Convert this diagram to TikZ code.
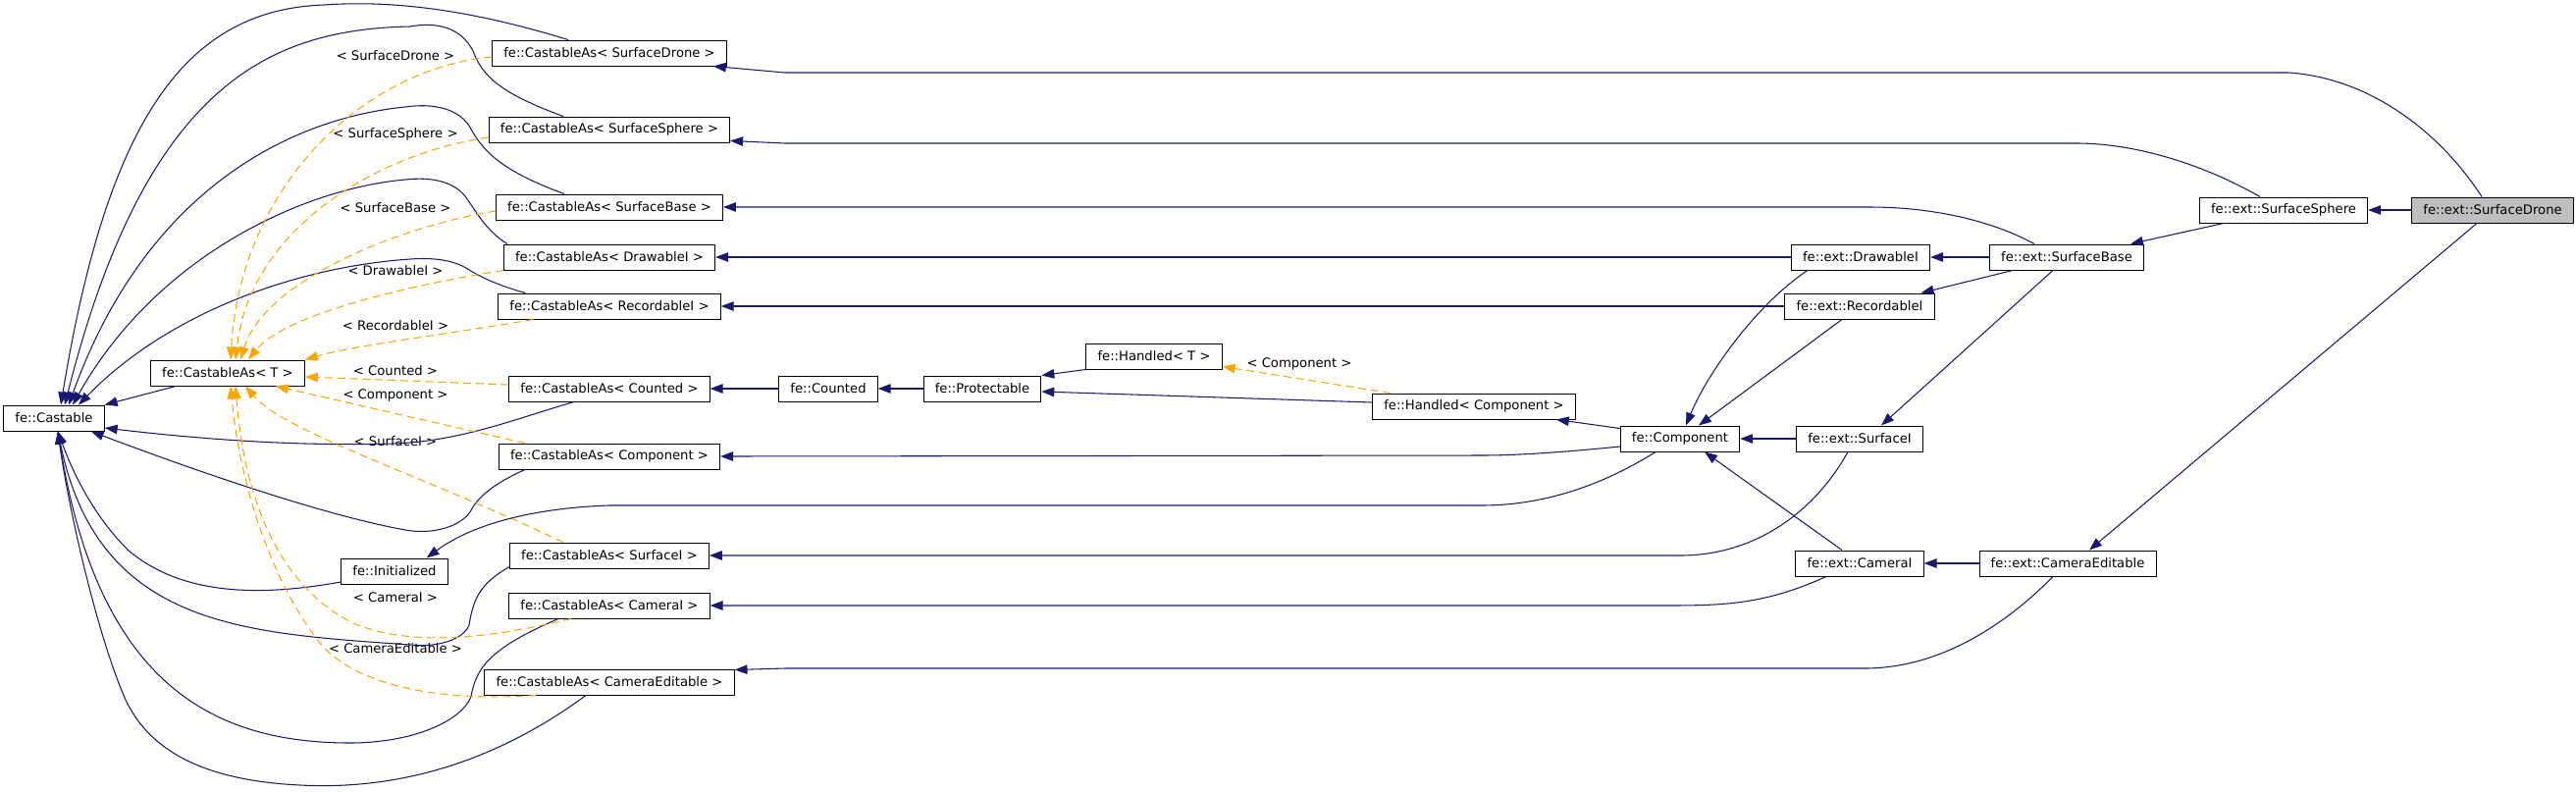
\documentclass[tikz,border=0pt]{standalone}
\usepackage{fontspec}
\setmainfont{DejaVu Sans}
\usetikzlibrary{arrows.meta}
\definecolor{edgeblue}{HTML}{191970}
\definecolor{edgeorange}{HTML}{FFA500}

\begin{document}
\begin{tikzpicture}[x=0.02cm,y=-0.02cm,
    cls/.style={draw=black,line width=0.55pt,fill=white,minimum height=0.52cm,inner xsep=6.6pt,inner ysep=0pt,font=\fontsize{7.5}{9}\selectfont},
    lbl/.style={inner sep=1pt,font=\fontsize{7.5}{9}\selectfont},
    inh/.style={edgeblue,line width=0.6pt,-{Triangle[length=0.26cm,width=0.19cm]}},
    tmpl/.style={edgeorange,line width=0.6pt,dash pattern=on 4.5pt off 2.8pt,-{Triangle[length=0.26cm,width=0.19cm]}}]
    \useasboundingbox (0,0) rectangle (2625,806);

    % classes
    \node[cls] (castable) at (55,426) {fe::Castable};
    \node[cls] (castT) at (232,380) {fe::CastableAs< T >};
    \node[cls] (casDrone) at (621,54) {fe::CastableAs< SurfaceDrone >};
    \node[cls] (casSphere) at (621,132) {fe::CastableAs< SurfaceSphere >};
    \node[cls] (casBase) at (621,211) {fe::CastableAs< SurfaceBase >};
    \node[cls] (casDraw) at (621,262) {fe::CastableAs< DrawableI >};
    \node[cls] (casRec) at (621,312) {fe::CastableAs< RecordableI >};
    \node[cls] (casCounted) at (621,396) {fe::CastableAs< Counted >};
    \node[cls] (casComp) at (621,465) {fe::CastableAs< Component >};
    \node[cls] (initd) at (402,582) {fe::Initialized};
    \node[cls] (casSurfI) at (621,566) {fe::CastableAs< SurfaceI >};
    \node[cls] (casCamI) at (621,617) {fe::CastableAs< CameraI >};
    \node[cls] (casCamEd) at (621,695) {fe::CastableAs< CameraEditable >};
    \node[cls] (counted) at (844,396) {fe::Counted};
    \node[cls] (protectable) at (1001,396) {fe::Protectable};
    \node[cls] (handledT) at (1176,363) {fe::Handled< T >};
    \node[cls] (handledComp) at (1502,414) {fe::Handled< Component >};
    \node[cls] (component) at (1712,447) {fe::Component};
    \node[cls] (drawableI) at (1896,262) {fe::ext::DrawableI};
    \node[cls] (recordableI) at (1895,312) {fe::ext::RecordableI};
    \node[cls] (surfaceI) at (1895,447) {fe::ext::SurfaceI};
    \node[cls] (cameraI) at (1895,574) {fe::ext::CameraI};
    \node[cls] (surfBase) at (2106,262) {fe::ext::SurfaceBase};
    \node[cls] (camEd) at (2107,574) {fe::ext::CameraEditable};
    \node[cls] (surfSphere) at (2327,214) {fe::ext::SurfaceSphere};
    \node[cls,fill=black!25] (surfDrone) at (2540,214) {fe::ext::SurfaceDrone};

    % template labels
    \node[lbl] (lDrone) at (403,57) {< SurfaceDrone >};
    \node[lbl] (lSphere) at (403,137) {< SurfaceSphere >};
    \node[lbl] (lBase) at (403,212) {< SurfaceBase >};
    \node[lbl] (lDraw) at (403,276) {< DrawableI >};
    \node[lbl] (lRec) at (403,332) {< RecordableI >};
    \node[lbl] (lCounted) at (403,378) {< Counted >};
    \node[lbl] (lComp) at (403,403) {< Component >};
    \node[lbl] (lSurfI) at (403,450) {< SurfaceI >};
    \node[lbl] (lCamI) at (403,609) {< CameraI >};
    \node[lbl] (lCamEd) at (403,661) {< CameraEditable >};
    \node[lbl] (lHandled) at (1324,371) {< Component >};

    % everything derives from fe::Castable
    \draw[inh] ([xshift=0.52cm]castT.south west) -- (castable.north east);
    \draw[inh] ([xshift=-0.84cm]casDrone.north) .. controls (480,10) and (400,0) .. (330,5) .. controls (190,10) and (110,120) .. ([xshift=0.14cm]castable.north);
    \draw[inh] ([xshift=-0.94cm]casSphere.north) .. controls (510,95) and (492,78) .. (482,52) .. controls (470,28) and (445,22) .. (418,27) .. controls (280,30) and (150,80) .. ([xshift=0.22cm]castable.north);
    \draw[inh] ([xshift=-0.92cm]casBase.north) .. controls (505,172) and (490,150) .. (478,128) .. controls (466,110) and (440,105) .. (413,109) .. controls (300,120) and (150,190) .. ([xshift=0.3cm]castable.north);
    \draw[inh] ([xshift=0.08cm]casDraw.north west) .. controls (495,235) and (485,215) .. (474,200) .. controls (462,185) and (440,180) .. (413,183) .. controls (310,192) and (160,260) .. ([xshift=0.38cm]castable.north);
    \draw[inh] ([xshift=0.56cm]casRec.north west) .. controls (505,290) and (490,282) .. (478,275) .. controls (465,266) and (445,262) .. (418,264) .. controls (300,272) and (170,320) .. ([xshift=0.5cm]castable.north);
    \draw[inh] ([xshift=-0.72cm]casCounted.south) .. controls (530,425) and (470,450) .. (400,452) .. controls (300,455) and (200,447) .. ([yshift=-0.2cm]castable.east);
    \draw[inh] ([xshift=0.54cm]casComp.south west) .. controls (505,492) and (488,505) .. (480,520) .. controls (470,537) and (440,545) .. (413,540) .. controls (330,525) and (200,480) .. ([xshift=-0.28cm]castable.south east);
    \draw[inh] ([yshift=-0.22cm]initd.west) .. controls (280,605) and (190,612) .. (130,560) .. controls (90,520) and (70,470) .. ([xshift=0.08cm]castable.south);
    \draw[inh] ([yshift=0.04cm]casSurfI.south west) .. controls (488,595) and (482,612) .. (478,637) .. controls (472,652) and (445,660) .. (418,657) .. controls (250,645) and (100,640) .. ([xshift=0.08cm]castable.south);
    \draw[inh] ([xshift=-1.04cm]casCamI.south) .. controls (500,660) and (485,680) .. (480,710) .. controls (470,735) and (420,757) .. (357,757) .. controls (220,757) and (100,700) .. ([xshift=0.08cm]castable.south);
    \draw[inh] ([xshift=-0.48cm]casCamEd.south) .. controls (500,780) and (400,805) .. (306,800) .. controls (200,795) and (150,760) .. (128,713) .. controls (100,650) and (70,520) .. ([xshift=0.08cm]castable.south);

    % template instances of fe::CastableAs< T >
    \draw[tmpl] ([yshift=-0.08cm]casDrone.west) .. controls (370,70) and (245,190) .. ([xshift=0.06cm]castT.north);
    \draw[tmpl] ([yshift=-0.16cm]casSphere.west) .. controls (390,155) and (255,230) .. ([xshift=0.16cm]castT.north);
    \draw[tmpl] ([yshift=-0.08cm]casBase.west) .. controls (410,230) and (270,285) .. ([xshift=0.26cm]castT.north);
    \draw[tmpl] (casDraw.south west) .. controls (420,290) and (290,320) .. ([xshift=0.42cm]castT.north);
    \draw[tmpl] ([xshift=0.72cm]casRec.south west) .. controls (460,340) and (360,352) .. (castT.north east);
    \draw[tmpl] ([yshift=0.08cm]casCounted.west) -- ([yshift=-0.08cm]castT.east);
    \draw[tmpl] ([xshift=0.54cm]casComp.north west) -- ([xshift=0.98cm]castT.south);
    \draw[tmpl] ([xshift=-0.94cm]casSurfI.north) .. controls (420,480) and (290,440) .. ([xshift=0.36cm]castT.south);
    \draw[tmpl] ([xshift=-0.78cm]casCamI.south) .. controls (500,650) and (420,660) .. (360,635) .. controls (290,600) and (250,520) .. ([xshift=0.16cm]castT.south);
    \draw[tmpl] ([xshift=-1.5cm]casCamEd.south) .. controls (450,715) and (370,700) .. (330,660) .. controls (280,600) and (245,500) .. ([xshift=0.06cm]castT.south);

    % counted / handled chain
    \draw[inh] (counted.west) -- (casCounted.east);
    \draw[inh] (protectable.west) -- (counted.east);
    \draw[inh] (handledT.south west) -- (protectable.north east);
    \draw[inh] ([yshift=0.08cm]handledComp.west) -- ([yshift=-0.06cm]protectable.east);
    \draw[tmpl] ([xshift=0.38cm]handledComp.north west) -- ([yshift=0.06cm]handledT.south east);
    \draw[inh] ([yshift=-0.06cm]component.north west) -- ([xshift=-0.4cm]handledComp.south east);

    % long edges back to the CastableAs instances
    \draw[inh] ([xshift=-0.22cm]surfDrone.north) .. controls (2490,140) and (2420,80) .. (2332,74) -- (800,74) -- ([xshift=-0.28cm]casDrone.south east);
    \draw[inh] ([xshift=-0.48cm]surfSphere.north) .. controls (2250,170) and (2180,146) .. (2116,146) -- (800,146) -- ([yshift=0.04cm]casSphere.south east);
    \draw[inh] ([xshift=-0.66cm]surfBase.north) .. controls (2030,225) and (1970,211) .. (1905,211) -- (casBase.east);
    \draw[inh] (drawableI.west) -- (casDraw.east);
    \draw[inh] (recordableI.west) -- (casRec.east);
    \draw[inh] ([yshift=-0.16cm]component.west) .. controls (1580,462) and (1540,464) .. (1509,464) -- (casComp.east);
    \draw[inh] ([xshift=-0.5cm]component.south) .. controls (1640,490) and (1580,515) .. (1509,515) -- (620,515) .. controls (540,518) and (480,535) .. ([xshift=-0.44cm]initd.north east);
    \draw[inh] ([xshift=-0.24cm]surfaceI.south) .. controls (1850,520) and (1790,566) .. (1712,566) -- (casSurfI.east);
    \draw[inh] ([xshift=-0.68cm]cameraI.south) .. controls (1800,615) and (1760,617) .. (1700,617) -- (casCamI.east);
    \draw[inh] ([xshift=-0.3cm]camEd.south) .. controls (2060,620) and (1990,681) .. (1900,681) -- (800,681) -- ([yshift=-0.02cm]casCamEd.north east);

    % fe::ext classes
    \draw[inh] (surfaceI.west) -- (component.east);
    \draw[inh] ([xshift=0.34cm]drawableI.south west) .. controls (1790,310) and (1740,380) .. ([xshift=0.12cm]component.north);
    \draw[inh] ([xshift=-0.36cm]recordableI.south) -- ([xshift=0.38cm]component.north);
    \draw[inh] ([xshift=-0.36cm]cameraI.north) -- ([xshift=0.5cm]component.south);
    \draw[inh] (surfBase.west) -- (drawableI.east);
    \draw[inh] ([xshift=0.48cm]surfBase.south west) -- ([xshift=-0.28cm]recordableI.north east);
    \draw[inh] ([xshift=-0.28cm]surfBase.south) -- ([xshift=0.44cm]surfaceI.north);
    \draw[inh] ([xshift=0.5cm]surfSphere.south west) -- ([xshift=-0.28cm]surfBase.north east);
    \draw[inh] (surfDrone.west) -- (surfSphere.east);
    \draw[inh] (camEd.west) -- (cameraI.east);
    \draw[inh] ([xshift=-0.32cm]surfDrone.south) -- ([xshift=0.44cm]camEd.north);
\end{tikzpicture}
\end{document}
